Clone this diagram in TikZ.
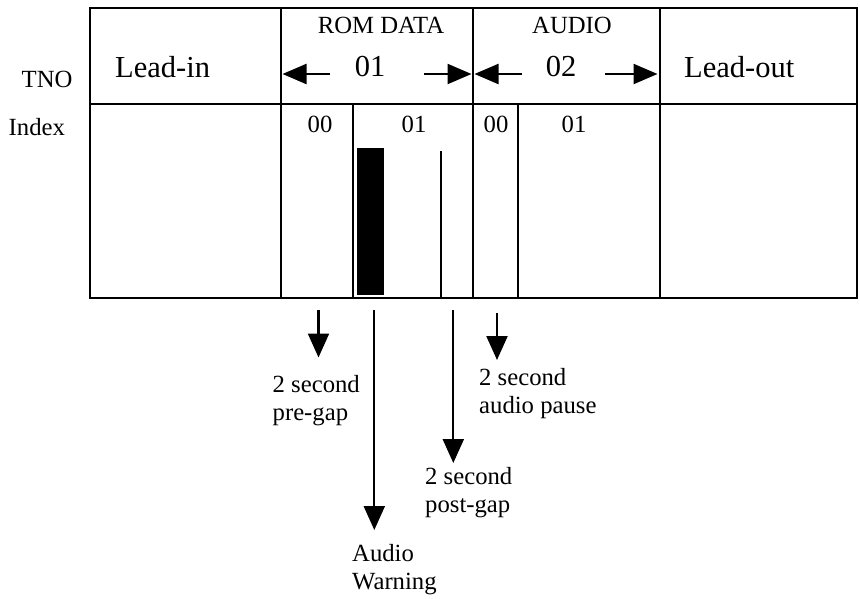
\documentclass[tikz,border=0pt]{standalone}
\usepackage{fontspec}
\setmainfont{Liberation Serif}
\usetikzlibrary{arrows.meta}
\begin{document}
\begin{tikzpicture}[x=1pt,y=-1pt,
  frame/.style={line width=2.6pt},
  sub/.style={line width=2.2pt},
  arr/.style={line width=2.2pt,-{Triangle[length=24pt,width=21pt]}},
  harr/.style={line width=2.2pt,-{Triangle[length=24pt,width=20pt]}},
  small/.style={font=\fontsize{24.7}{29}\selectfont, inner sep=0pt},
  big/.style={font=\fontsize{30.5}{36}\selectfont, inner sep=0pt}]
\useasboundingbox (0,0) rectangle (860,598);

% frame
\draw[frame] (90,8) rectangle (857,298);
\draw[frame] (90,104) -- (857,104);
\draw[frame] (281,8) -- (281,298);
\draw[frame] (473,8) -- (473,298);
\draw[frame] (660,8) -- (660,298);
\draw[sub] (353,104) -- (353,298);
\draw[sub] (518,104) -- (518,298);
\draw[sub] (441,151) -- (441,298);
\fill (357,148) rectangle (384,295);

% left labels
\node[small,anchor=base west] (tno) at (21.5,87) {TNO};
\node[small,anchor=base west] (index) at (8.5,135.5) {Index};

% header
\node[big,anchor=base west] (leadin) at (115,77) {Lead-in};
\node[big,anchor=base west] (leadout) at (684,77) {Lead-out};
\node[small,anchor=base] (rom) at (381,33) {ROM DATA};
\node[small,anchor=base] (audio) at (572,33) {AUDIO};
\node[big,anchor=base] (t01) at (370,76) {01};
\node[big,anchor=base] (t02) at (561,76) {02};

\coordinate (a1s) at (330,74);   \coordinate (a1e) at (282.5,74);
\coordinate (a2s) at (424,74);   \coordinate (a2e) at (471.5,74);
\coordinate (a3s) at (521.5,74); \coordinate (a3e) at (474.5,74);
\coordinate (a4s) at (605,74);   \coordinate (a4e) at (657.5,74);
\draw[harr] (a1s) -- (a1e);
\draw[harr] (a2s) -- (a2e);
\draw[harr] (a3s) -- (a3e);
\draw[harr] (a4s) -- (a4e);

% index labels
\node[small,anchor=base] (i00a) at (320,132) {00};
\node[small,anchor=base] (i01a) at (414,132) {01};
\node[small,anchor=base] (i00b) at (496,132) {00};
\node[small,anchor=base] (i01b) at (574,132) {01};

% bottom arrows
\coordinate (pgs) at (318.5,310); \coordinate (pge) at (318.5,357.5);
\coordinate (aws) at (374.3,310); \coordinate (awe) at (374.3,530);
\coordinate (pos) at (453.3,310); \coordinate (poe) at (453.3,463);
\coordinate (aps) at (497,313);   \coordinate (ape) at (497,360);
\draw[arr] (pgs) -- (pge);
\draw[arr] (aws) -- (awe);
\draw[arr] (pos) -- (poe);
\draw[arr] (aps) -- (ape);

% bottom labels
\node[small,anchor=base west] (pg1) at (272.5,392.5) {2 second};
\node[small,anchor=base west] (pg2) at (272.5,420.5) {pre-gap};
\node[small,anchor=base west] (ap1) at (479,385) {2 second};
\node[small,anchor=base west] (ap2) at (479,413) {audio pause};
\node[small,anchor=base west] (po1) at (425,484.5) {2 second};
\node[small,anchor=base west] (po2) at (425,512.5) {post-gap};
\node[small,anchor=base west] (aw1) at (352,561) {Audio};
\node[small,anchor=base west] (aw2) at (352,589) {Warning};
\end{tikzpicture}
\end{document}
